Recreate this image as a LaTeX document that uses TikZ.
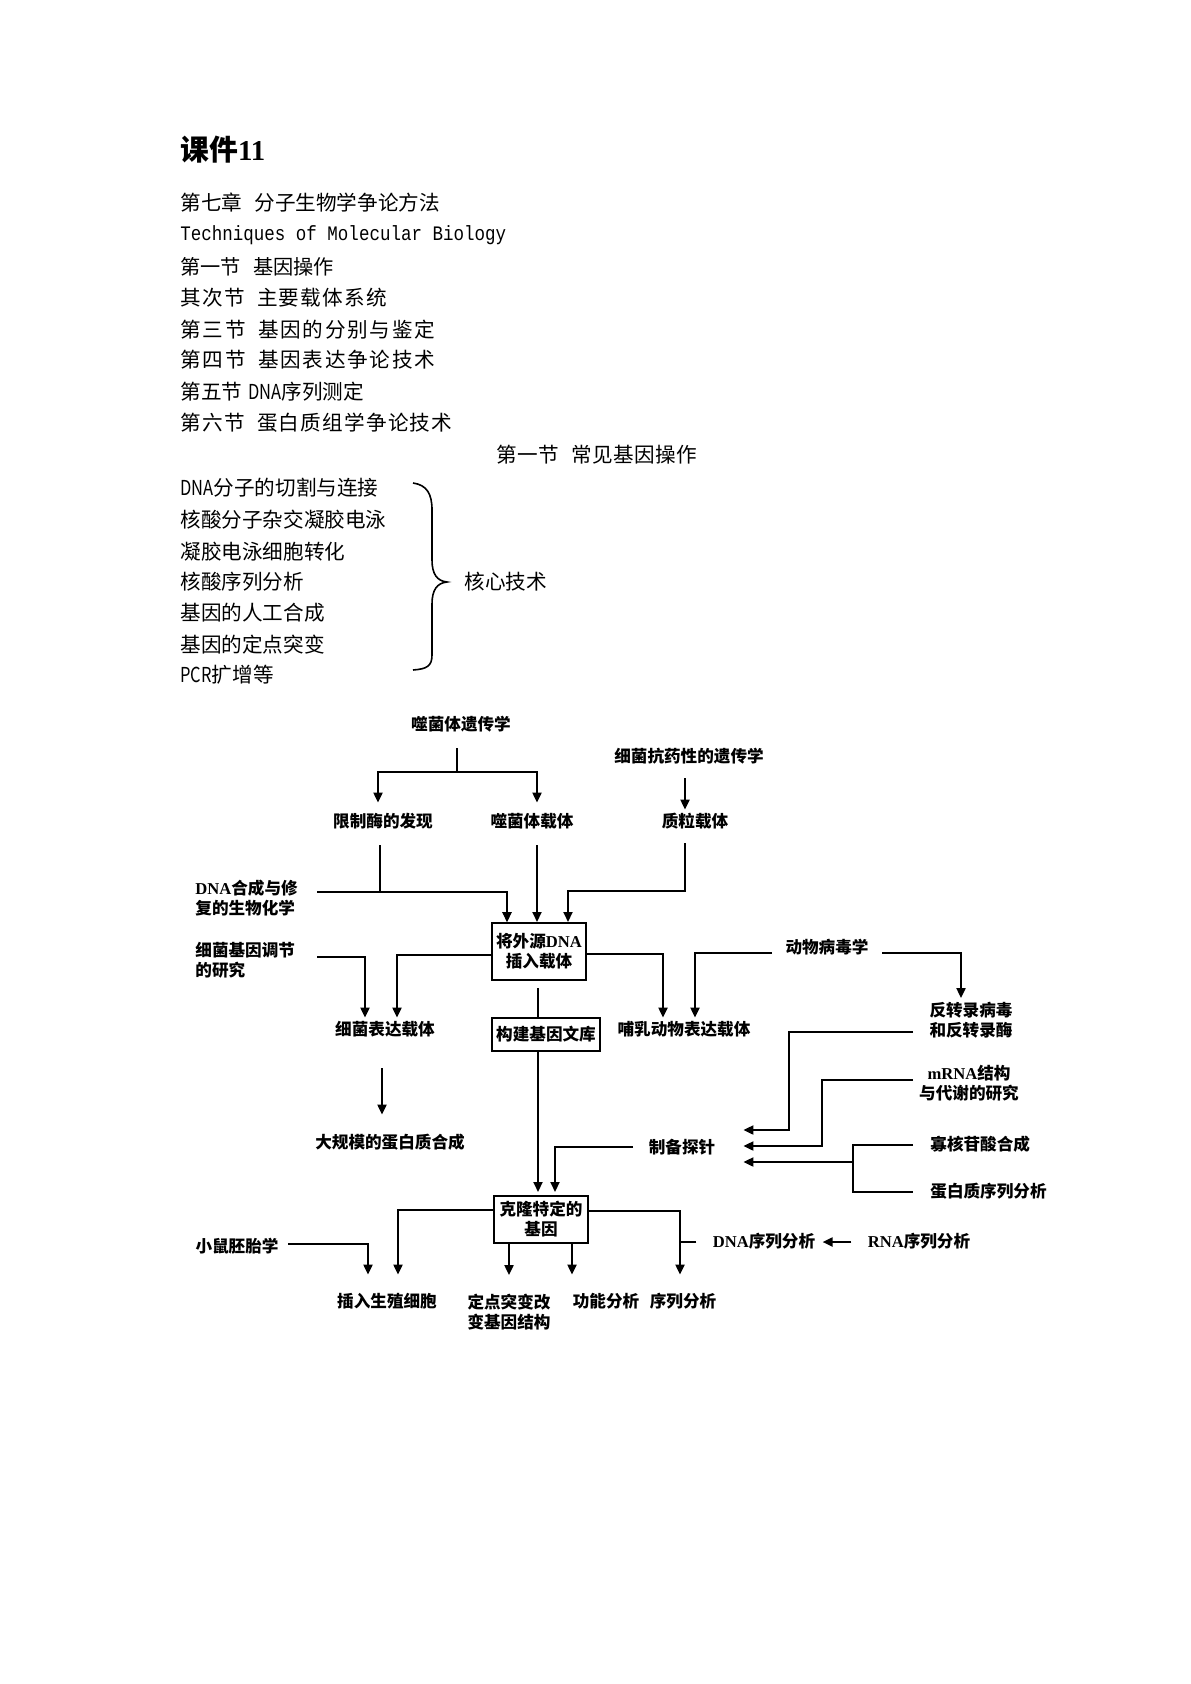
\documentclass[tikz,border=0pt]{standalone}
\usepackage{fontspec}
\newfontfamily\cjk{Noto Sans CJK SC}
\newfontfamily\monof{Liberation Mono}
\newfontfamily\serifl{Liberation Serif}
\usetikzlibrary{arrows.meta}
\newcommand\sgap{\hspace{0.6em}}
\newcommand\nlat[1]{\scalebox{0.8}[1]{#1}}
\begin{document}
\begin{tikzpicture}[x=0.5pt,y=-0.5pt,
  tx/.style={inner sep=0pt, anchor=west, font=\cjk\fontsize{10.3pt}{12pt}\selectfont},
  lbl/.style={inner sep=0pt, font=\cjk\fontsize{8.3pt}{10pt}\selectfont\bfseries, text height=7pt, text depth=1.5pt},
  lbltwo/.style={inner sep=0pt, font=\cjk\fontsize{8.3pt}{10pt}\selectfont\bfseries, align=center},
  box/.style={draw, line width=1pt, inner sep=0pt, font=\cjk\fontsize{8.3pt}{10pt}\selectfont\bfseries, align=center},
  ln/.style={line width=1pt},
  arr/.style={line width=1pt, -{Triangle[length=5pt,width=4.5pt]}}
]
\useasboundingbox (0,0) rectangle (1190,1684);
\fill[white] (0,0) rectangle (1190,1684);

% ---------- header text ----------
\node[anchor=west, inner sep=0pt, font=\cjk\fontsize{14.4pt}{16pt}\selectfont\bfseries] (title) at (180,150) {课件{\serifl\bfseries 11}};
\node[tx] (l1) at (180,203) {第七章\sgap 分子生物学争论方法};
\node[tx] (l2) at (180,235) {\scalebox{0.85}[1]{\monof\fontsize{10.3pt}{12pt}\selectfont Techniques of Molecular Biology}};
\node[tx, font=\cjk\fontsize{10.1pt}{12pt}\selectfont] (l3) at (180,267) {第一节\sgap 基因操作};
\node[tx, font=\cjk\fontsize{10.3pt}{12pt}\selectfont\addfontfeature{LetterSpace=6}] (l4) at (180,298) {其次节\sgap 主要载体系统};
\node[tx, font=\cjk\fontsize{10.3pt}{12pt}\selectfont\addfontfeature{LetterSpace=8.5}] (l5) at (180,330) {第三节\sgap 基因的分别与鉴定};
\node[tx, font=\cjk\fontsize{10.3pt}{12pt}\selectfont\addfontfeature{LetterSpace=8.5}] (l6) at (180,360) {第四节\sgap 基因表达争论技术};
\node[tx] (l7) at (180,392) {第五节\hspace{0.3em}\nlat{DNA}序列测定};
\node[tx, font=\cjk\fontsize{10.3pt}{12pt}\selectfont\addfontfeature{LetterSpace=6}] (l8) at (180,423) {第六节\sgap 蛋白质组学争论技术};

\node[tx, font=\cjk\fontsize{10.3pt}{12pt}\selectfont\addfontfeature{LetterSpace=2}] (sec) at (496,455) {第一节\sgap 常见基因操作};
\node[tx] (t1) at (180,488) {\nlat{DNA}分子的切割与连接};
\node[tx] (t2) at (180,520) {核酸分子杂交凝胶电泳};
\node[tx] (t3) at (180,552) {凝胶电泳细胞转化};
\node[tx] (t4) at (180,582) {核酸序列分析};
\node[tx] (t5) at (180,613) {基因的人工合成};
\node[tx] (t6) at (180,645) {基因的定点突变};
\node[tx] (t7) at (180,675) {\nlat{PCR}扩增等};
\draw[line width=0.8pt] (413,483) .. controls (427,485) and (432,494) .. (432,510) -- (432,560)
  .. controls (432,574) and (437,581) .. (447,582)
  .. controls (437,583) and (432,590) .. (432,604) -- (432,655)
  .. controls (432,666) and (427,669) .. (413,670);
\node[tx] (core) at (464,582) {核心技术};

% ---------- diagram nodes ----------
\node[lbl] (phage) at (461,725) {噬菌体遗传学};
\node[lbl] (restr) at (383,822) {限制酶的发现};
\node[lbl] (phvec) at (532,822) {噬菌体载体};
\node[lbl] (resist) at (689,757) {细菌抗药性的遗传学};
\node[lbl] (plasmid) at (695,822) {质粒载体};
\node[lbltwo, anchor=west, align=left] (dnasyn) at (195,898) {{\serifl\bfseries DNA}合成与修\\复的生物化学};
\node[lbltwo, anchor=west, align=left] (bactreg) at (195,960) {细菌基因调节\\的研究};
\node[box, minimum width=47pt, minimum height=28.5pt] (insert) at (539,951.5) {将外源{\serifl\bfseries DNA}\\插入载体};
\node[lbl] (animal) at (827,948) {动物病毒学};
\node[lbl] (bactexp) at (385,1030) {细菌表达载体};
\node[box, minimum width=54pt, minimum height=16.5pt] (lib) at (546,1034.5) {构建基因文库};
\node[lbl] (mammal) at (684,1030) {哺乳动物表达载体};
\node[lbltwo] (retro) at (971,1020) {反转录病毒\\和反转录酶};
\node[lbltwo] (mrna) at (969,1083.5) {{\serifl\bfseries mRNA}结构\\与代谢的研究};
\node[lbl] (protsyn) at (390,1143) {大规模的蛋白质合成};
\node[lbl] (probe) at (682,1148) {制备探针};
\node[lbl, anchor=west] (oligo) at (930,1145) {寡核苷酸合成};
\node[lbl, anchor=west] (protseq) at (930,1192) {蛋白质序列分析};
\node[box, minimum width=47pt, minimum height=23.5pt] (clone) at (541,1219.5) {克隆特定的\\基因};
\node[lbl] (mouse) at (237,1247) {小鼠胚胎学};
\node[lbl] (dnaseq) at (764,1242) {{\serifl DNA}序列分析};
\node[lbl] (rnaseq) at (919,1242) {{\serifl RNA}序列分析};
\node[lbl] (germ) at (387,1302) {插入生殖细胞};
\node[lbltwo] (site) at (509,1312) {定点突变改\\变基因结构};
\node[lbl] (func) at (606,1302) {功能分析};
\node[lbl] (seq) at (683,1302) {序列分析};

% ---------- connectors ----------
\coordinate (j1) at (457,772);
\draw[ln, shorten <=7.25pt] (phage.south -| 457,0) -- (j1);
\draw[arr, shorten >=5.25pt] (j1) -| (restr.north -| 378,0);
\draw[arr, shorten >=5.25pt] (j1) -| (phvec.north -| 537,0);
\draw[arr, shorten <=6.25pt, shorten >=1.75pt] (resist.south -| 685,0) -- (plasmid.north -| 685,0);

\draw[arr, shorten <=7.25pt] (restr.south -| 380,0) |- (507,892) -- (insert.north -| 507,0);
\draw[arr] ([yshift=3pt]dnasyn.east -| 317,0) -| (insert.north -| 507,0);
\draw[arr, shorten <=6.25pt] (plasmid.south -| 685,0) |- (568,891) -- (insert.north -| 568,0);
\draw[arr, shorten <=7.25pt] (phvec.south -| 537,0) -- (insert.north -| 537,0);

\draw[arr, shorten >=1.75pt] ([yshift=1.5pt]bactreg.east -| 317,0) -| (bactexp.north -| 365,0);
\draw[arr, shorten >=1.75pt] ([yshift=-1.75pt]insert.west) -| (bactexp.north -| 397,0);
\draw[ln, shorten <=3.5pt] (insert.south -| 538,0) -- (lib.north -| 538,0);
\draw[arr, shorten >=1.75pt] ([yshift=-1.25pt]insert.east) -| (mammal.north -| 663,0);
\draw[arr, shorten >=1.75pt] ([yshift=-2.5pt]animal.west -| 772,0) -| (mammal.north -| 695,0);
\draw[arr, shorten >=1.75pt] ([yshift=-2.5pt]animal.east -| 882,0) -| (retro.north -| 961,0);

\draw[arr, shorten <=14.75pt, shorten >=9.75pt] (bactexp.south -| 382,0) -- (protsyn.north -| 382,0);
\draw[arr, shorten >=1.5pt] (lib.south -| 538,0) -- (clone.north -| 538,0);
\draw[arr, shorten >=1.5pt] ([yshift=0.5pt]probe.west -| 633,0) -| (clone.north -| 555,0);

\draw[arr, shorten >=13.9pt] ([yshift=-6pt]retro.west -| 913,0) -| (789,1130) -- (probe.east |- 0,1130);
\draw[arr, shorten >=13.9pt] ([yshift=1.75pt]mrna.west -| 913,0) -| (822,1146) -- (probe.east |- 0,1146);
\draw[ln] ([xshift=-8.5pt]oligo.west) -| (853,1168) |- ([xshift=-8.5pt]protseq.west);
\coordinate (j3) at (853,1162);
\draw[arr, shorten >=13.9pt] (j3) -- (probe.east |- j3);

\draw[arr, shorten >=9.25pt] ([yshift=4.75pt]clone.west) -| (germ.north -| 398,0);
\draw[arr, shorten >=9.25pt] ([yshift=1.5pt]mouse.east -| 288,0) -| (germ.north -| 368,0);
\draw[arr, shorten >=9.25pt] (clone.south -| 509,0) -- (site.north -| 509,0);
\draw[arr, shorten >=9.25pt] (clone.south -| 572,0) -- (func.north -| 572,0);
\draw[arr, shorten >=9.25pt] ([yshift=4.25pt]clone.east) -| (seq.north -| 680,0);
\draw[ln, shorten <=8pt] (dnaseq.west) -- (dnaseq.west -| 680,0);
\draw[arr, shorten <=8pt, shorten >=3.5pt] (rnaseq.west) -- (dnaseq.east);
\end{tikzpicture}
\end{document}
